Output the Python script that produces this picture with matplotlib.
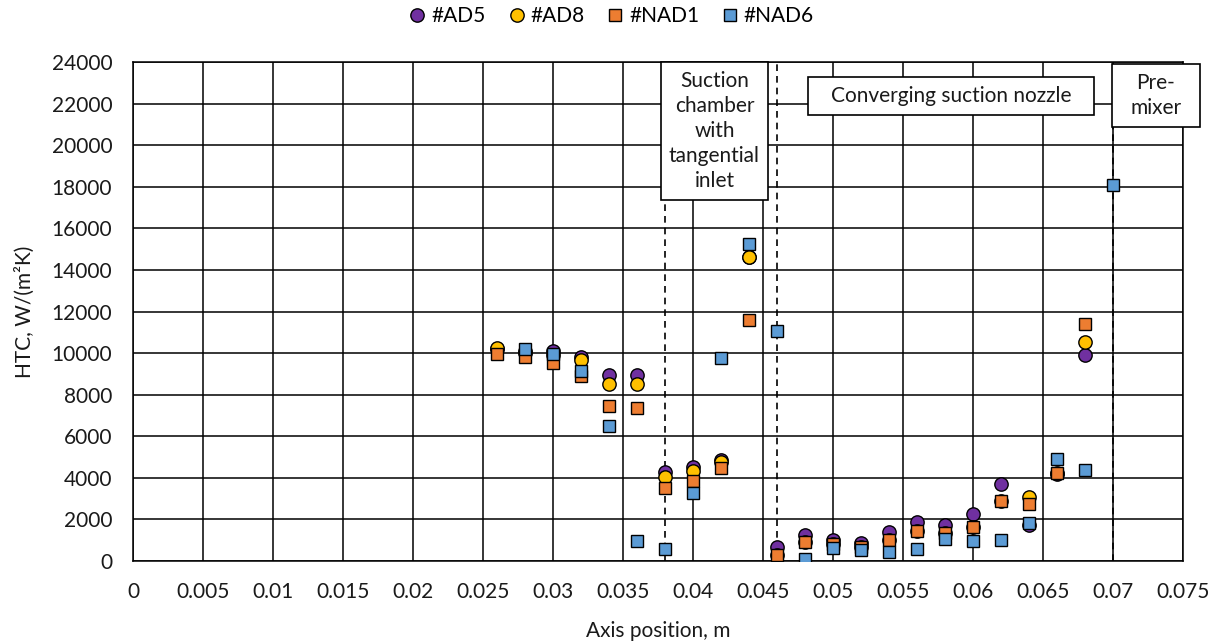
import matplotlib
matplotlib.use("Agg")
import matplotlib.pyplot as plt
from matplotlib.patches import Rectangle

plt.rcParams['font.family'] = ['Lato', 'DejaVu Sans']

# axial positions, m
x_ad5 = [0.026, 0.028, 0.030, 0.032, 0.034, 0.036, 0.038, 0.040, 0.042, 0.044, 0.046,
         0.048, 0.050, 0.052, 0.054, 0.056, 0.058, 0.060, 0.062, 0.064, 0.066, 0.068]
htc_ad5 = [10200, 10100, 10120, 9800, 8950, 8950, 4300, 4540, 4860, 14600, 660,
           1250, 1010, 865, 1380, 1890, 1730, 2240, 3700, 1730, 4180, 9910]

x_ad8 = [0.026, 0.028, 0.030, 0.032, 0.034, 0.036, 0.038, 0.040, 0.042, 0.044, 0.046,
         0.048, 0.050, 0.052, 0.054, 0.056, 0.058, 0.060, 0.062, 0.064, 0.066, 0.068]
htc_ad8 = [10260, 10000, 9900, 9670, 8510, 8510, 4060, 4340, 4780, 14640, 300,
           900, 800, 690, 1010, 1460, 1360, 1650, 2900, 3060, 4220, 10520]

x_nad1 = [0.026, 0.028, 0.030, 0.032, 0.034, 0.036, 0.038, 0.040, 0.042, 0.044, 0.046,
          0.048, 0.050, 0.052, 0.054, 0.056, 0.058, 0.060, 0.062, 0.064, 0.066, 0.068]
htc_nad1 = [9960, 9800, 9510, 8880, 7440, 7340, 3530, 3860, 4460, 11590, 290,
            900, 800, 690, 1010, 1460, 1360, 1650, 2900, 2720, 4240, 11400]

x_nad6 = [0.028, 0.030, 0.032, 0.034, 0.036, 0.038, 0.040, 0.042, 0.044, 0.046,
          0.048, 0.050, 0.052, 0.054, 0.056, 0.058, 0.060, 0.062, 0.064, 0.066, 0.068, 0.070]
htc_nad6 = [10180, 9940, 9150, 6480, 980, 560, 3250, 9750, 15230, 11080,
            100, 640, 510, 430, 590, 1040, 980, 990, 1810, 4920, 4380, 18090]

# section borders (dashed lines)
borders = [0.038, 0.046, 0.070]

fig = plt.figure(figsize=(12.19, 6.41), dpi=100)
ax = fig.add_axes([133/1219, 1 - 561/641, (1183-133)/1219, (561-62)/641])

fontsize = 15
ms = 9.6
txtcol = "#1a1a1a"

ax.plot(x_ad5, htc_ad5, linestyle="none", marker="o", markersize=ms, markerfacecolor="#7030A0",
        markeredgecolor="black", markeredgewidth=1.0, label="#AD5", zorder=5)
ax.plot(x_ad8, htc_ad8, linestyle="none", marker="o", markersize=ms, markerfacecolor="#FFC000",
        markeredgecolor="black", markeredgewidth=1.0, label="#AD8", zorder=6)
ax.plot(x_nad1, htc_nad1, linestyle="none", marker="s", markersize=ms - 0.4, markerfacecolor="#ED7D31",
        markeredgecolor="black", markeredgewidth=1.0, label="#NAD1", zorder=7)
ax.plot(x_nad6, htc_nad6, linestyle="none", marker="s", markersize=ms - 0.4, markerfacecolor="#5B9BD5",
        markeredgecolor="black", markeredgewidth=1.0, label="#NAD6", zorder=8)

for b in borders:
    ax.axvline(b, color="black", linestyle=(0, (4, 3)), linewidth=1.2, zorder=2)

# section boxes
boxes = [
    (0.03771, 17360, 0.04536 - 0.03771, 24000 - 17360, "Suction\nchamber\nwith\ntangential\ninlet"),
    (0.04821, 21450, 0.06864 - 0.04821, 23280 - 21450, "Converging suction nozzle"),
    (0.06993, 20870, 0.07621 - 0.06993, 23900 - 20870, "Pre-\nmixer"),
]
for bx, by, bw, bh, txt in boxes:
    ax.add_patch(Rectangle((bx, by), bw, bh, facecolor="white", edgecolor="black",
                           linewidth=1.2, zorder=3, clip_on=False))
    ax.text(bx + bw / 2, by + bh / 2, txt, ha="center", va="center", fontsize=fontsize,
            linespacing=1.3, zorder=4, color=txtcol)

ax.set_xlim(0, 0.075)
ax.set_ylim(0, 24000)
xt = [i * 0.005 for i in range(16)]
ax.set_xticks(xt)
ax.set_xticklabels(["%g" % round(v, 3) for v in xt])
ax.set_yticks(range(0, 24001, 2000))
ax.tick_params(length=0, labelsize=fontsize, pad=15, colors=txtcol)
ax.grid(True, color="black", linewidth=1.1)
ax.set_axisbelow(True)
for s in ax.spines.values():
    s.set_linewidth(1.1)

ax.set_xlabel("Axis position, m", fontsize=fontsize, color=txtcol, labelpad=14)
ax.set_ylabel("HTC, W/(m²K)", fontsize=fontsize, color=txtcol, labelpad=12)

fig.legend(loc="center", bbox_to_anchor=(0.5, 1 - 16/641), ncol=4, frameon=False,
           fontsize=fontsize, handletextpad=0.05, columnspacing=0.9, handlelength=1.2,
           markerscale=1.0)

fig.savefig("out.png", dpi=100)
